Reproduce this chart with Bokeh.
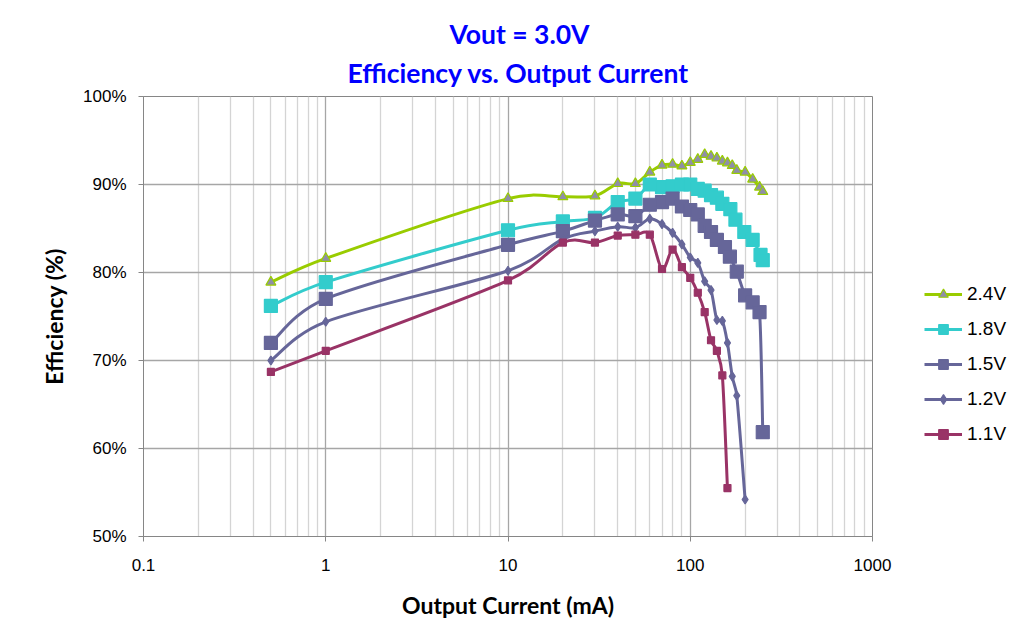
import math
from bokeh.plotting import figure
from bokeh.models import FixedTicker, Legend, LegendItem, Title, Range1d
from bokeh.embed import file_html
from bokeh.resources import INLINE

# ---------------- data ----------------
SERIES = ["2.4V", "1.8V", "1.5V", "1.2V", "1.1V"]

cur_24 = [0.5, 1, 10, 20, 30, 40, 50, 60, 70, 80, 90, 100, 110, 120, 130, 140,
          150, 160, 170, 180, 200, 220, 240, 250]
eff_24 = [78.9, 81.6, 88.4, 88.6, 88.7, 90.1, 90.1, 91.4, 92.2, 92.3, 92.1, 92.5,
          92.85, 93.4, 93.2, 93.0, 92.65, 92.45, 92.15, 91.6, 91.4, 90.6, 89.7, 89.2]

cur_18 = [0.5, 1, 10, 20, 30, 40, 50, 60, 70, 80, 90, 100, 110, 120, 130, 140,
          150, 166, 177, 198, 220, 243, 250]
eff_18 = [76.2, 78.9, 84.8, 85.8, 86.2, 88.0, 88.4, 90.0, 89.7, 89.8, 90.0, 90.0,
          89.5, 89.3, 88.8, 88.5, 87.8, 87.2, 86.0, 84.6, 83.7, 82.0, 81.4]

cur_15 = [0.5, 1, 10, 20, 30, 40, 50, 60, 70, 80, 90, 100, 110, 120, 130, 140,
          155, 165, 180, 200, 220, 240, 250]
eff_15 = [72.0, 77.0, 83.15, 84.7, 85.9, 86.6, 86.4, 87.7, 88.0, 88.4, 87.5, 87.1,
          86.6, 85.3, 84.6, 83.7, 82.9, 81.8, 80.1, 77.4, 76.6, 75.5, 61.85]

cur_12 = [0.5, 1, 10, 20, 30, 40, 50, 60, 70, 80, 90, 100, 110, 120, 130, 140,
          150, 160, 170, 180, 200]
eff_12 = [70.0, 74.4, 80.2, 83.8, 84.7, 85.2, 85.1, 86.1, 85.5, 84.5, 83.2, 81.7,
          81.1, 79.0, 78.0, 74.6, 74.5, 72.0, 68.2, 66.0, 54.2]

cur_11 = [0.5, 1, 10, 20, 30, 40, 50, 60, 70, 80, 90, 100, 110, 120, 130, 140,
          150, 160]
eff_11 = [68.7, 71.1, 79.1, 83.4, 83.4, 84.2, 84.3, 84.3, 80.4, 82.6, 80.6, 79.4,
          77.7, 75.5, 72.3, 71.1, 68.3, 55.5]

X_TICKS = [0.1, 1, 10, 100, 1000]
X_TICK_LABELS = ["0.1", "1", "10", "100", "1000"]
Y_TICKS = [50, 60, 70, 80, 90, 100]
Y_TICK_LABELS = ["50%", "60%", "70%", "80%", "90%", "100%"]

TITLE_1 = "Vout = 3.0V"
TITLE_2 = "Efficiency vs. Output Current"
X_LABEL = "Output Current (mA)"
Y_LABEL = "Efficiency (%)"

# ---------------- styling ----------------
LINE_COLORS = ["#99CC00", "#33CCCC", "#666699", "#666699", "#993366"]
MARKERS = ["triangle", "square", "square", "diamond", "square"]
MARKER_FILL = ["#8f8fa6", "#33CCCC", "#666699", "#666699", "#993366"]
MARKER_SIZE = [10, 13, 13, 9, 7]

data = [(cur_24, eff_24), (cur_18, eff_18), (cur_15, eff_15),
        (cur_12, eff_12), (cur_11, eff_11)]

# screen-like scaling used for smoothing (px per decade, px per percent)
SX, SY = 182.25, 8.8


def smooth_segments(cur, eff):
    P = [(math.log10(c) * SX, e * SY) for c, e in zip(cur, eff)]
    n = len(P)
    out = dict(x0=[], y0=[], x1=[], y1=[], cx0=[], cy0=[], cx1=[], cy1=[])

    def cap(t, seg):
        L = math.hypot(t[0], t[1])
        if L == 0 or L <= seg / 2:
            return t
        return (t[0] * seg / 2 / L, t[1] * seg / 2 / L)

    def back(q):
        return 10 ** (q[0] / SX), q[1] / SY

    for i in range(n - 1):
        p0 = P[i - 1] if i > 0 else P[i]
        p1 = P[i]
        p2 = P[i + 1]
        p3 = P[i + 2] if i + 2 < n else P[i + 1]
        seg = math.dist(p1, p2)
        t1 = cap(((p2[0] - p0[0]) / 6, (p2[1] - p0[1]) / 6), seg)
        t2 = cap(((p3[0] - p1[0]) / 6, (p3[1] - p1[1]) / 6), seg)
        c1 = (p1[0] + t1[0], p1[1] + t1[1])
        c2 = (p2[0] - t2[0], p2[1] - t2[1])
        a, b = back(p1)
        c, d = back(p2)
        e, f = back(c1)
        g, h = back(c2)
        out["x0"].append(a); out["y0"].append(b)
        out["x1"].append(c); out["y1"].append(d)
        out["cx0"].append(e); out["cy0"].append(f)
        out["cx1"].append(g); out["cy1"].append(h)
    return out


p = figure(x_axis_type="log", x_range=Range1d(0.1, 1000), y_range=Range1d(50, 100),
           frame_width=729, frame_height=440,
           min_border_left=143, min_border_right=138, min_border_top=96,
           min_border_bottom=89,
           output_backend="svg", toolbar_location=None,
           background_fill_color="white", border_fill_color="white")

# p.title is the outermost one; the added Title sits next to the frame
p.title.text = TITLE_1
p.title.align = "left"
p.title.offset = 306
p.title.text_font = "Lato"
p.title.text_font_size = "26.5px"
p.title.text_font_style = "bold"
p.title.text_color = "#0000FF"
p.title.standoff = -4
t2 = Title(text=TITLE_2, align="left", offset=204, text_font="Lato",
           text_font_size="26.5px", text_font_style="bold", text_color="#0000FF",
           standoff=15)
p.add_layout(t2, "above")

# axes
p.xaxis.ticker = FixedTicker(ticks=X_TICKS,
                             minor_ticks=[m * d for d in [0.1, 1, 10, 100] for m in range(2, 10)])
p.xaxis.major_label_overrides = {t: l for t, l in zip(X_TICKS, X_TICK_LABELS)}
p.yaxis.ticker = FixedTicker(ticks=Y_TICKS)
p.yaxis.major_label_overrides = {t: l for t, l in zip(Y_TICKS, Y_TICK_LABELS)}

for ax in (p.xaxis, p.yaxis):
    ax.axis_line_color = "#868686"
    ax.major_tick_line_color = "#868686"
    ax.major_tick_out = 5
    ax.major_tick_in = 0
    ax.minor_tick_out = 0
    ax.minor_tick_in = 0
    ax.major_label_text_font = "Liberation Sans"
    ax.major_label_text_font_size = "17px"
    ax.major_label_text_color = "#000000"
    ax.axis_label_text_font = "Lato"
    ax.axis_label_text_font_style = "bold"
    ax.axis_label_text_color = "#000000"

p.xaxis.axis_label_text_font_size = "23px"
p.yaxis.axis_label_text_font_size = "23px"
p.xaxis.axis_label = X_LABEL
p.yaxis.axis_label = Y_LABEL
p.xaxis.major_label_standoff = 17
p.yaxis.major_label_standoff = 12
p.xaxis.axis_label_standoff = 17
p.yaxis.axis_label_standoff = 12

p.xgrid.grid_line_color = "#a6a6a6"
p.xgrid.grid_line_width = 1.3
p.xgrid.minor_grid_line_color = "#d4d4d4"
p.xgrid.minor_grid_line_width = 1.3
p.ygrid.grid_line_color = "#a6a6a6"
p.ygrid.grid_line_width = 1.3
p.outline_line_color = "#868686"

items = []
for name, (cur, eff), lc, mk, mf, ms in zip(SERIES, data, LINE_COLORS, MARKERS,
                                          MARKER_FILL, MARKER_SIZE):
    segs = smooth_segments(cur, eff)
    p.bezier(source=segs, x0="x0", y0="y0", x1="x1", y1="y1", cx0="cx0", cy0="cy0",
             cx1="cx1", cy1="cy1", line_color=lc, line_width=3, line_cap="round")
    # single-point line: draws nothing in the plot, only provides the legend stroke
    r_leg = p.line(x=cur[:1], y=eff[:1], line_color=lc, line_width=3)
    r_mk = p.scatter(x=cur, y=eff, marker=mk, size=ms, fill_color=mf,
                     line_color=lc, line_width=1.2)
    items.append(LegendItem(label=name, renderers=[r_leg, r_mk]))

legend = Legend(items=items, location=(52, 90), orientation="vertical",
                glyph_width=38, glyph_height=24, label_height=24,
                label_standoff=5, spacing=11, padding=0, margin=0,
                border_line_color=None, background_fill_alpha=0,
                label_text_font="Liberation Sans", label_text_font_size="19px",
                label_text_color="#000000")
p.add_layout(legend, "right")

open("out.html", "w").write(file_html(p, INLINE))
